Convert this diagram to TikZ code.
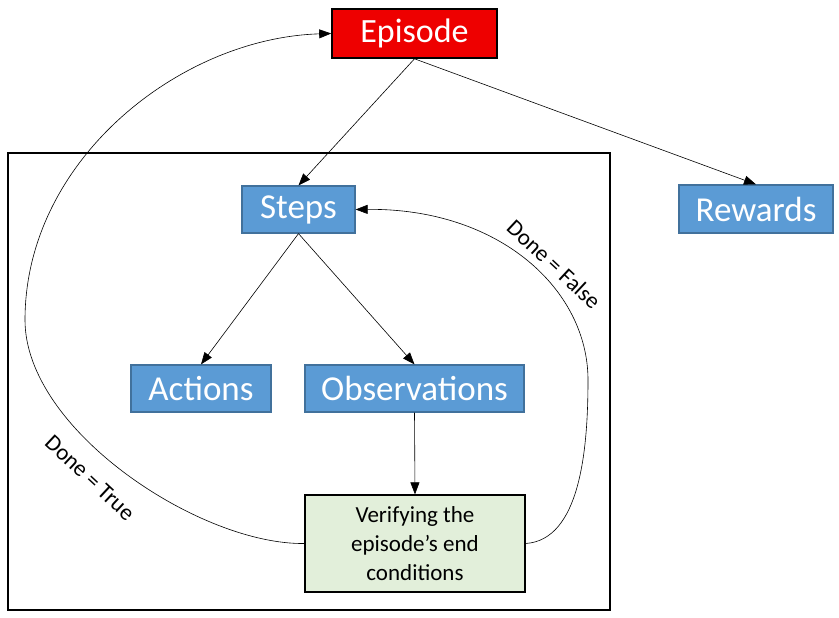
\documentclass[tikz,border=0pt]{standalone}
\usepackage{fontspec}
\setmainfont{Carlito}
\usetikzlibrary{arrows.meta}
\definecolor{rouge}{HTML}{EE0000}
\definecolor{bleu}{HTML}{5B9BD5}
\definecolor{bleufonce}{HTML}{41719C}
\definecolor{vertpale}{HTML}{E2EFDA}
\tikzset{
  boite/.style={draw=bleufonce,fill=bleu,text=white,line width=1.2pt,
    font=\fontsize{35}{40}\selectfont,inner sep=0pt},
  fleche/.style={-{Triangle[length=12pt,width=9pt]},line width=0.6pt},
  etiq/.style={font=\fontsize{23}{26}\selectfont,rotate=-43}
}
\begin{document}
\begin{tikzpicture}[x=1pt,y=-1pt]
%					Cadre de l'image :
					\useasboundingbox (0,0) rectangle (839,618);
%					Tracé du grand cadre :
					\draw[line width=1.2pt] (8,153) rectangle (610,610);
%					Tracé des boîtes :
					\node[draw,fill=rouge,text=white,line width=1.6pt,font=\fontsize{34}{38}\selectfont,
					  minimum width=165pt,minimum height=49pt,inner sep=0pt] (episode) at (414.5,33.5) {Episode};
					\node[boite,minimum width=113pt,minimum height=47pt] (steps) at (298.5,209.5) {Steps};
					\node[boite,minimum width=154pt,minimum height=48pt] (rewards) at (756,209) {Rewards};
					\node[boite,minimum width=140pt,minimum height=47pt] (actions) at (201,388.5) {Actions};
					\node[boite,minimum width=219pt,minimum height=47pt] (observations) at (414.5,388.5) {Observations};
					\node[draw,fill=vertpale,line width=1.2pt,align=center,font=\fontsize{23}{29}\selectfont,
					  minimum width=220pt,minimum height=97pt,inner sep=0pt] (verif) at (415,543.5)
					  {Verifying the\\episode’s end\\conditions};
%					Tracé des flèches :
					\draw[fleche] (episode.south) -- (steps.north);
					\draw[fleche] (episode.south) -- (rewards.north);
					\draw[fleche] (steps.south) -- (actions.north);
					\draw[fleche] (steps.south) -- (observations.north);
					\draw[fleche] (observations.south) -- (verif.north);
%					Tracé des boucles :
					\draw[fleche] (verif.west) .. controls (200,545) and (25,430) .. (25,320)
					  .. controls (25,160) and (180,38) .. (episode.west);
					\draw[fleche] (verif.east) .. controls (580,540) and (588,450) .. (588,380)
					  .. controls (588,290) and (500,208) .. (steps.east);
					\node[etiq] (vrai) at (90,478) {Done = True};
					\node[etiq] (faux) at (554,264) {Done = False};
				\end{tikzpicture}
\end{document}
